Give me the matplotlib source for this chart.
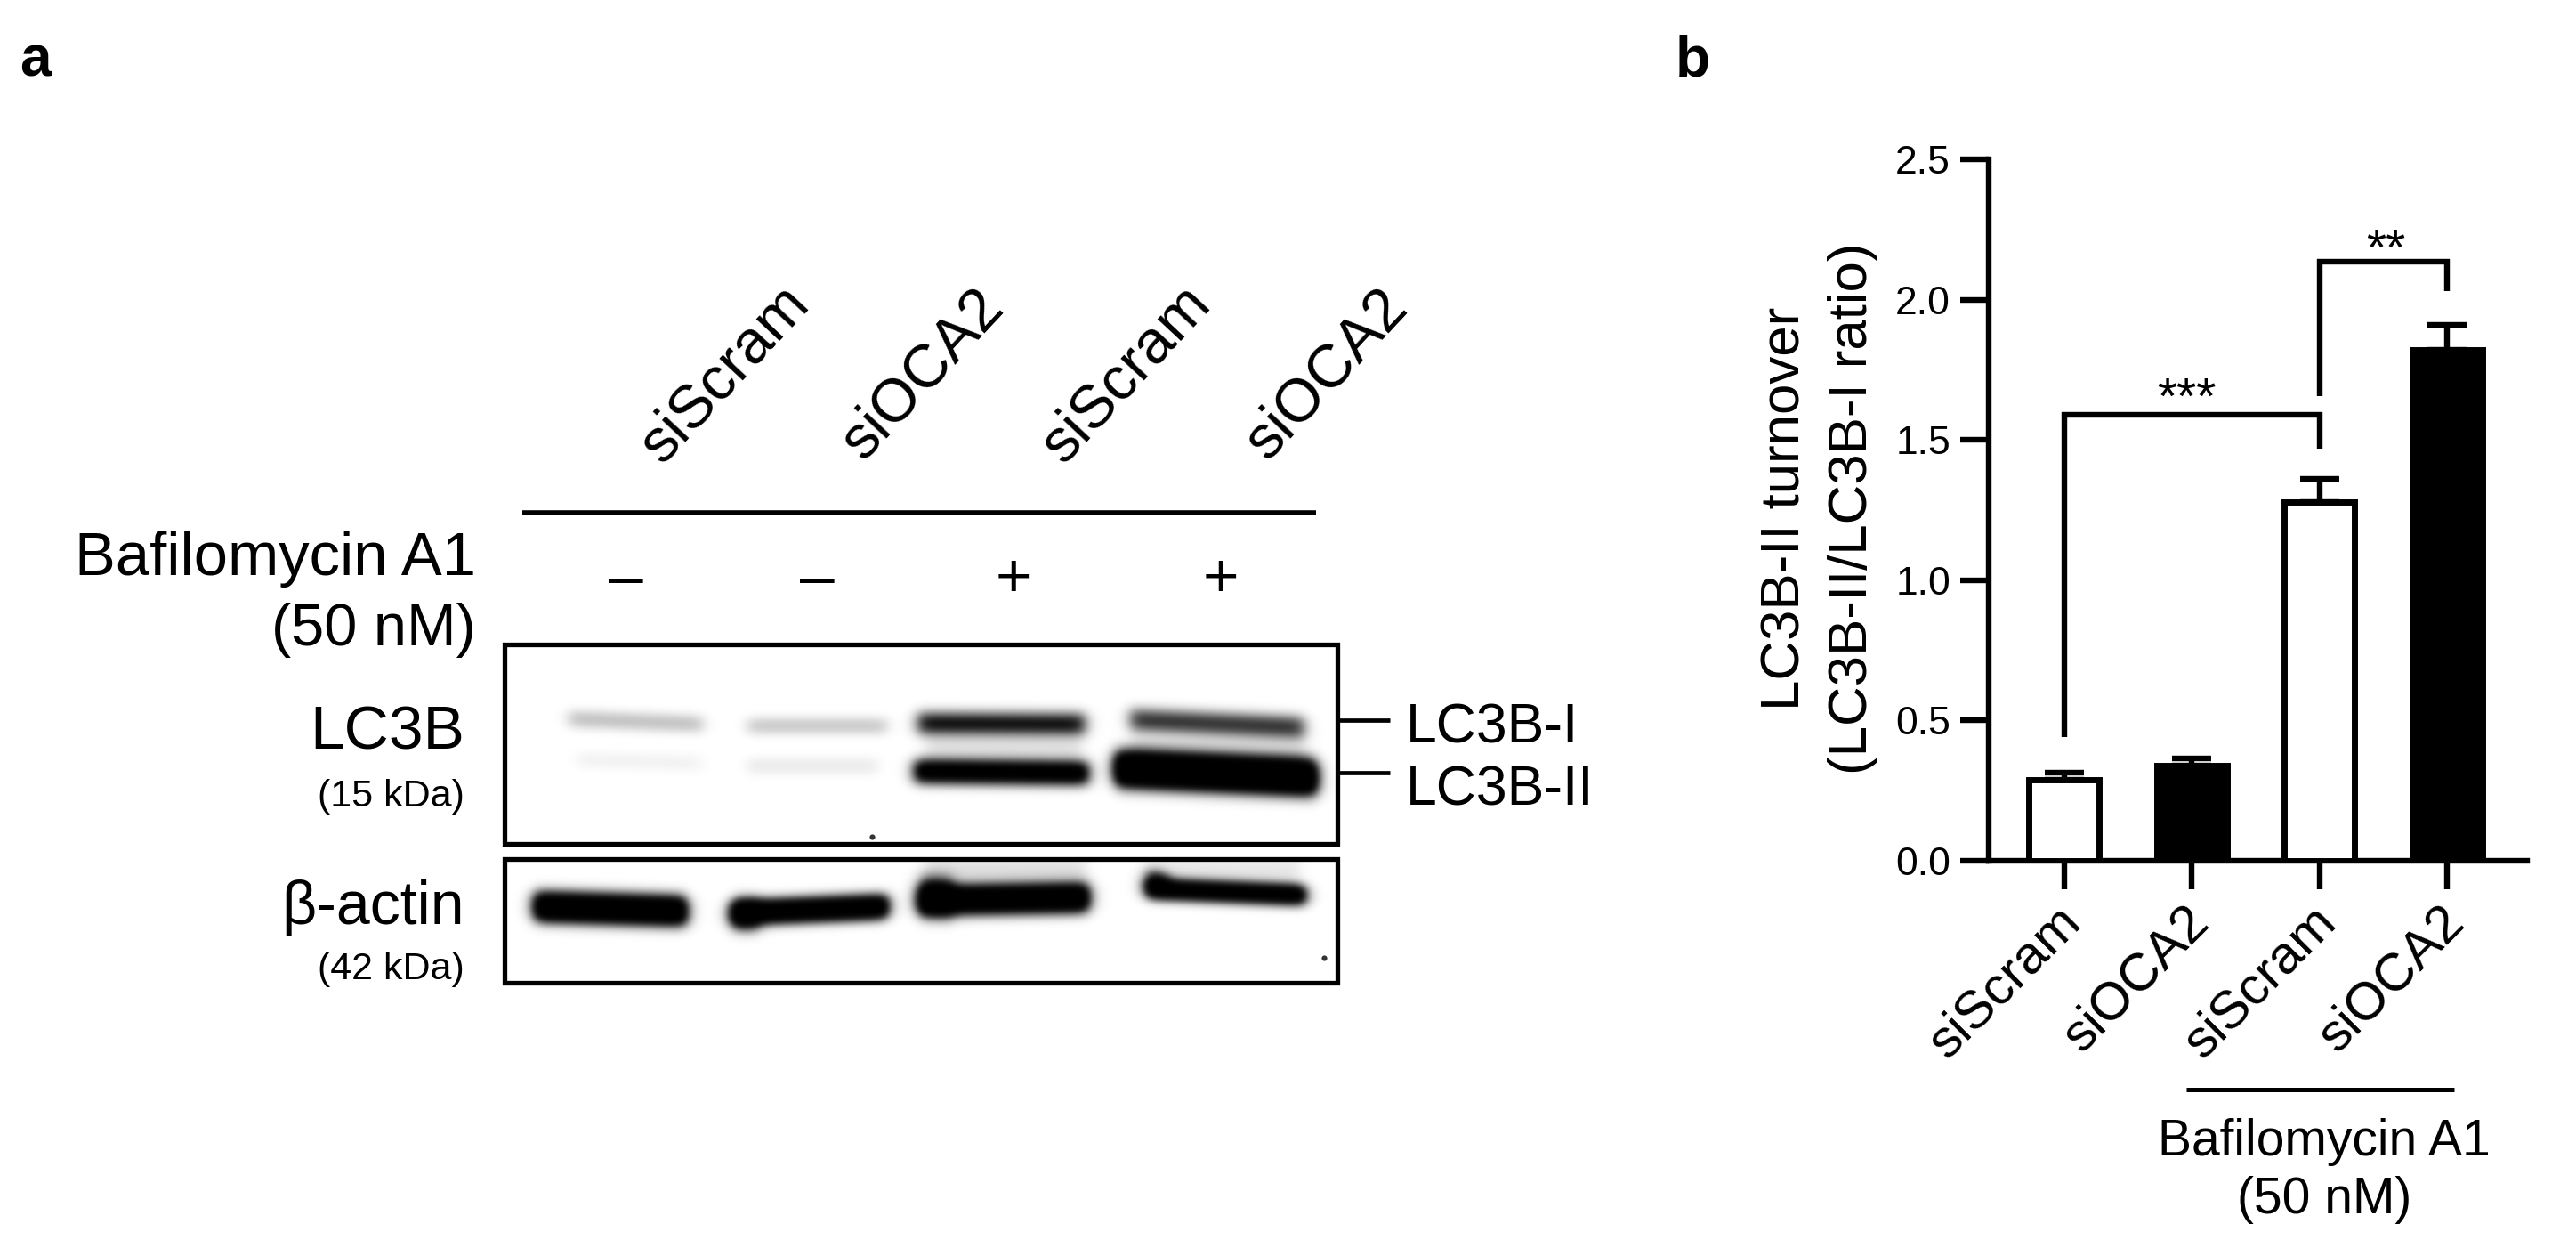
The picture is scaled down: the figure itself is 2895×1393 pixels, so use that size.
import numpy as np
import matplotlib
matplotlib.use('Agg')
import matplotlib.pyplot as plt
from matplotlib.patches import Rectangle
from matplotlib.transforms import ScaledTranslation

plt.rcParams['font.family'] = ['Liberation Sans', 'DejaVu Sans']

# bar chart values (panel b)
groups = ['siScram', 'siOCA2', 'siScram', 'siOCA2']
turnover = [0.29, 0.34, 1.28, 1.82]
turnover_err = [0.025, 0.025, 0.08, 0.09]
y_ticks = [0.0, 0.5, 1.0, 1.5, 2.0, 2.5]
bar_colors = ['white', 'black', 'white', 'black']

# band densities per lane (panel a)
lc3b_i_density = [0.24, 0.21, 0.95, 0.8]
lc3b_ii_density = [0.05, 0.08, 1.5, 2.6]
actin_density = [2.2, 2.2, 2.2, 2.0]
bafilomycin_signs = ['–', '–', '+', '+']

# band outlines on the page: left, right, y at left, y at right, thickness
lc3b_i_shape = [(639, 789, 807, 813, 20), (840, 996, 815, 815, 19),
                (1031, 1219, 812, 813, 26), (1270, 1465, 808, 817, 26)]
lc3b_ii_shape = [(648, 789, 853, 857, 20), (840, 986, 860, 860, 20),
                 (1028, 1222, 866, 868, 27), (1254, 1478, 863, 873, 38)]
actin_shape = [(601, 770, 1018, 1023, 32), (824, 996, 1025, 1018, 26),
               (1034, 1222, 1011, 1008, 31), (1289, 1465, 998, 1005, 22)]


def add_band(dark, X, Y, shape, density, soft=8):
    x0, x1, yl, yr, thick = shape
    along = 0.5 * (np.tanh((X - x0) / soft) - np.tanh((X - x1) / soft))
    yc = yl + (X - x0) / (x1 - x0) * (yr - yl)
    across = np.exp(-np.abs((Y - yc) / (thick / 2)) ** 2.5)
    return dark + density * along * across


def soften(img, sigma=3.5):
    # scanned look of the blot, plain gaussian along both axes
    r = int(3 * sigma)
    kernel = np.exp(-0.5 * (np.arange(-r, r + 1) / sigma) ** 2)
    kernel /= kernel.sum()
    padded = np.pad(img, r, mode='edge')
    padded = np.apply_along_axis(lambda v: np.convolve(v, kernel, mode='same'), 0, padded)
    padded = np.apply_along_axis(lambda v: np.convolve(v, kernel, mode='same'), 1, padded)
    return padded[r:-r, r:-r]


def draw_blot(ax, box, bands):
    x0, x1, y0, y1 = box
    X, Y = np.meshgrid(np.arange(x0, x1), np.arange(y0, y1))
    dark = np.zeros(X.shape, dtype=float)
    for shape, density in bands:
        dark = add_band(dark, X, Y, shape, density)
    ax.imshow(soften(1 - np.clip(dark, 0, 1)), cmap='gray', vmin=0, vmax=1,
              extent=(x0, x1, y1, y0), aspect='auto', interpolation='bilinear')
    ax.add_patch(Rectangle((x0, y0), x1 - x0, y1 - y0, fill=False, ec='black', lw=3.8))


fig = plt.figure(figsize=(28.95, 13.93), dpi=100)

# page axes in image pixels, used for panel a and free text
page = fig.add_axes([0, 0, 1, 1])
page.set_xlim(0, 2895)
page.set_ylim(1393, 0)
page.axis('off')

lc3b_bands = list(zip(lc3b_i_shape, lc3b_i_density)) + list(zip(lc3b_ii_shape, lc3b_ii_density))
lc3b_bands += [((1040, 1215, 838, 840, 30), 0.12), ((1270, 1465, 838, 842, 30), 0.12)]
actin_bands = list(zip(actin_shape, actin_density))
# lump on the left end of the second and third actin bands, and haze above them
actin_bands += [((824, 852, 1027, 1027, 34), 1.2), ((1034, 1070, 1006, 1008, 42), 1.2),
                ((1289, 1312, 988, 992, 24), 1.0),
                ((1040, 1220, 978, 978, 30), 0.13), ((1290, 1460, 978, 978, 30), 0.1)]
draw_blot(page, (567, 1503, 724, 948), lc3b_bands)
draw_blot(page, (567, 1503, 965, 1104), actin_bands)
page.set_xlim(0, 2895)
page.set_ylim(1393, 0)
page.scatter([980, 1488], [940, 1076], s=20, c='#333333', lw=0)

page.text(40, 68, 'a', fontsize=46, fontweight='bold', ha='center', va='center')
page.text(1902, 68, 'b', fontsize=46, fontweight='bold', ha='center', va='center')

for lx, name in zip([814, 1036, 1265, 1490], groups):
    page.text(lx, 421, name, fontsize=49, rotation=47, ha='center', va='center')
page.plot([587, 1479], [576, 576], color='black', lw=4, solid_capstyle='butt')

for lx, sign in zip([703, 918, 1139, 1372], bafilomycin_signs):
    page.text(lx, 652, sign, fontsize=50, ha='center', va='center')

page.text(535, 628, 'Bafilomycin A1', fontsize=49.5, ha='right', va='center')
page.text(535, 708, '(50 nM)', fontsize=48, ha='right', va='center')
page.text(522, 823, 'LC3B', fontsize=50, ha='right', va='center')
page.text(522, 895, '(15 kDa)', fontsize=31, ha='right', va='center')
page.text(522, 1020, 'β-actin', fontsize=49, ha='right', va='center')
page.text(522, 1089, '(42 kDa)', fontsize=31, ha='right', va='center')

page.plot([1505, 1562], [809, 809], color='black', lw=3.4, solid_capstyle='butt')
page.plot([1505, 1562], [868, 868], color='black', lw=3.4, solid_capstyle='butt')
page.text(1580, 818, 'LC3B-I', fontsize=45, ha='left', va='center')
page.text(1580, 888, 'LC3B-II', fontsize=45, ha='left', va='center')

page.plot([2457, 2758], [1224, 1224], color='black', lw=3.6, solid_capstyle='butt')
page.text(2612, 1283, 'Bafilomycin A1', fontsize=41, ha='center', va='center')
page.text(2612, 1348, '(50 nM)', fontsize=41, ha='center', va='center')

# panel b
ax = fig.add_axes([2235 / 2895, 1 - 967 / 1393, (2840 - 2235) / 2895, (967 - 179) / 1393])
ax.patch.set_alpha(0)
x = np.arange(len(groups))
ax.errorbar(x, turnover, yerr=[np.zeros(4), turnover_err], fmt='none', ecolor='black',
            elinewidth=4.6, capsize=15.5, capthick=4.6)
ax.bar(x, turnover, width=0.55, color=bar_colors, edgecolor='black', linewidth=5, zorder=3)
ax.set_xlim(-0.592, 3.624)
ax.set_ylim(0, 2.5)
ax.set_yticks(y_ticks)
ax.set_yticklabels(['%.1f' % t for t in y_ticks], fontsize=32)
ax.set_xticks(x)
ax.set_xticklabels(groups, fontsize=43, rotation=45, ha='right', rotation_mode='anchor')
ax.tick_params(axis='both', width=4.6, length=23, pad=8)
ax.tick_params(axis='x', pad=6)
for label in ax.get_xticklabels():
    label.set_transform(label.get_transform() + ScaledTranslation(-7 / 72, 0, fig.dpi_scale_trans))
ax.spines['top'].set_visible(False)
ax.spines['right'].set_visible(False)
ax.spines['left'].set_linewidth(4.6)
ax.spines['bottom'].set_linewidth(4.6)
ax.set_ylabel('LC3B-II turnover\n(LC3B-II/LC3B-I ratio)', fontsize=44.5, labelpad=14, linespacing=1.42)
ax.yaxis.label.set_y(0.502)


def bracket(x0, x1, y_top, y_left, y_right, stars, star_x, star_y):
    ax.plot([x0, x0, x1, x1], [y_left, y_top, y_top, y_right], color='black', lw=4.6,
            solid_joinstyle='miter', solid_capstyle='butt')
    ax.text(star_x, star_y, stars, fontsize=41, ha='center', va='center')


bracket(0, 2, 1.59, 0.44, 1.47, '***', 0.96, 1.64)
bracket(2, 3, 2.136, 1.655, 2.03, '**', 2.52, 2.17)

fig.savefig('out.png', dpi=100)
